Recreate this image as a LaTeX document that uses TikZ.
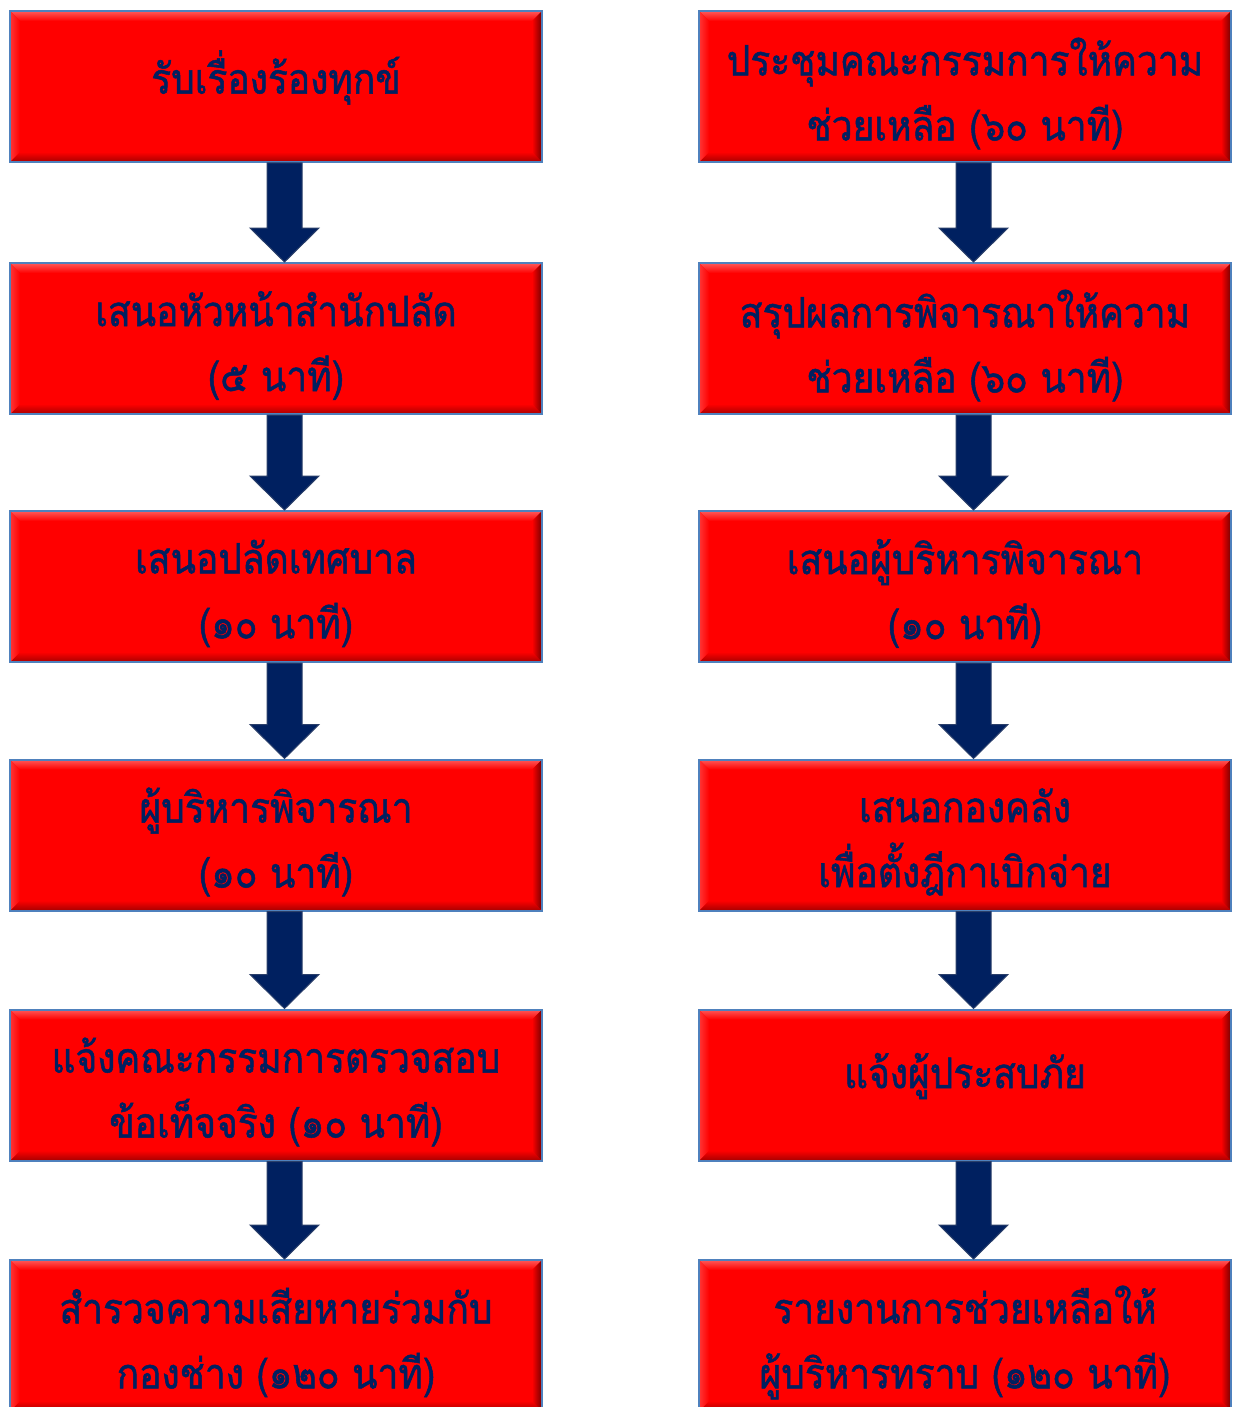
\documentclass[tikz,border=0pt]{standalone}
\usepackage{fontspec}
\newfontfamily\thaifont[Script=Thai,FakeBold=1.2,FakeStretch=0.885]{Loma}
\usetikzlibrary{calc}
\definecolor{navy}{HTML}{002060}
\definecolor{boxred}{HTML}{FF0000}
\definecolor{edgeblue}{HTML}{4F81BD}
\definecolor{bevlight}{HTML}{FF5A5A}
\definecolor{bevdark}{HTML}{A80000}
\definecolor{arrowedge}{HTML}{2A3F6A}
\newcommand\upline[2]{\raisebox{#1}[\height][\depth]{#2}}
\tikzset{
  stepbox/.style={minimum width=532pt, minimum height=151pt, inner sep=0pt,
    fill=boxred, draw=edgeblue, line width=2pt, text=navy, align=center,
    font=\thaifont\fontsize{42}{65}\selectfont,
    path picture={
      \coordinate (nw) at (path picture bounding box.north west);
      \coordinate (ne) at (path picture bounding box.north east);
      \coordinate (sw) at (path picture bounding box.south west);
      \coordinate (se) at (path picture bounding box.south east);
      \shade[top color=bevlight, bottom color=boxred]
        (nw) -- (ne) -- ($(ne)+(-10,10)$) -- ($(nw)+(10,10)$) -- cycle;
      \shade[top color=boxred, bottom color=bevdark]
        (sw) -- (se) -- ($(se)+(-10,-10)$) -- ($(sw)+(10,-10)$) -- cycle;
      \shade[left color=bevlight!60!boxred, right color=boxred]
        (nw) -- ($(nw)+(10,10)$) -- ($(sw)+(10,-10)$) -- (sw) -- cycle;
      \shade[left color=boxred, right color=bevdark!70!black]
        (ne) -- (se) -- ($(se)+(-10,-10)$) -- ($(ne)+(-10,10)$) -- cycle;
    }},
  bigarrow/.style={fill=navy, draw=arrowedge, line width=1pt, line join=miter}
}
\begin{document}
\begin{tikzpicture}[x=1pt,y=-1pt]
\useasboundingbox (0,0) rectangle (1233,1407);
\fill[white] (0,0) rectangle (1233,1407);
% left column
\node[stepbox] (L1) at (276,86.5) {\upline{9pt}{รับเรื่องร้องทุกข์}};
\node[stepbox] (L2) at (276,338.5) {\upline{-7pt}{เสนอหัวหน้าสำนักปลัด}\\\upline{-7pt}{(๕ นาที)}};
\node[stepbox] (L3) at (276,586.5) {\upline{-7pt}{เสนอปลัดเทศบาล}\\\upline{-7pt}{(๑๐ นาที)}};
\node[stepbox] (L4) at (276,835) {\upline{-7pt}{ผู้บริหารพิจารณา}\\\upline{-7pt}{(๑๐ นาที)}};
\node[stepbox] (L5) at (276,1085) {\upline{-7pt}{แจ้งคณะกรรมการตรวจสอบ}\\\upline{-7pt}{ข้อเท็จจริง (๑๐ นาที)}};
\node[stepbox] (L6) at (276,1335.5) {\upline{-7pt}{สำรวจความเสียหายร่วมกับ}\\\upline{-7pt}{กองช่าง (๑๒๐ นาที)}};
% right column
\node[stepbox] (R1) at (965,86.5) {\upline{-7pt}{ประชุมคณะกรรมการให้ความ}\\\upline{-7pt}{ช่วยเหลือ (๖๐ นาที)}};
\node[stepbox] (R2) at (965,338.5) {\upline{-7pt}{สรุปผลการพิจารณาให้ความ}\\\upline{-7pt}{ช่วยเหลือ (๖๐ นาที)}};
\node[stepbox] (R3) at (965,586.5) {\upline{-7pt}{เสนอผู้บริหารพิจารณา}\\\upline{-7pt}{(๑๐ นาที)}};
\node[stepbox] (R4) at (965,835) {\upline{-7pt}{เสนอกองคลัง}\\\upline{-7pt}{เพื่อตั้งฎีกาเบิกจ่าย}};
\node[stepbox] (R5) at (965,1085) {\upline{9pt}{แจ้งผู้ประสบภัย}};
\node[stepbox] (R6) at (965,1335.5) {\upline{-7pt}{รายงานการช่วยเหลือให้}\\\upline{-7pt}{ผู้บริหารทราบ (๑๒๐ นาที)}};
% arrows
\foreach \a/\b in {L1/L2,L2/L3,L3/L4,L4/L5,L5/L6,R1/R2,R2/R3,R3/R4,R4/R5,R5/R6}{
  \draw[bigarrow] ($(\a.south)+(-9,0)$) -- ($(\b.north)+(-9,-34)$)
    -- ($(\b.north)+(-26,-34)$) -- ($(\b.north)+(8.5,0)$)
    -- ($(\b.north)+(43,-34)$) -- ($(\b.north)+(26,-34)$)
    -- ($(\a.south)+(26,0)$) -- cycle;
}
\end{tikzpicture}
\end{document}
